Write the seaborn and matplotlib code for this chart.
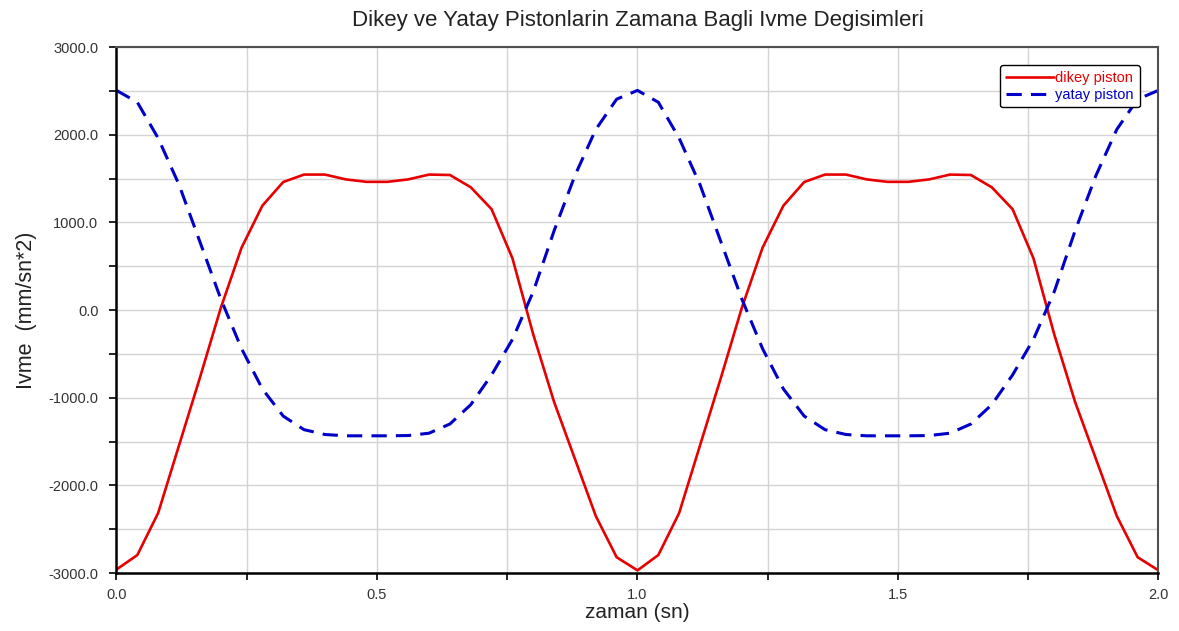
import numpy as np
import pandas as pd
import matplotlib
matplotlib.use("Agg")
import matplotlib.pyplot as plt
from matplotlib.ticker import MultipleLocator, FormatStrFormatter
import seaborn as sns

# time samples (sn)
zaman = [0.00, 0.04, 0.08, 0.12, 0.16, 0.20, 0.24, 0.28, 0.32, 0.36, 0.40, 0.44, 0.48,
         0.52, 0.56, 0.60, 0.64, 0.68, 0.72, 0.76, 0.80, 0.84, 0.88, 0.92, 0.96, 1.00,
         1.04, 1.08, 1.12, 1.16, 1.20, 1.24, 1.28, 1.32, 1.36, 1.40, 1.44, 1.48,
         1.52, 1.56, 1.60, 1.64, 1.68, 1.72, 1.76, 1.80, 1.84, 1.88, 1.92, 1.96, 2.00]

# vertical piston acceleration (mm/sn^2)
dikey = [-2960, -2795, -2315, -1545, -775, 20, 710, 1190, 1460, 1545, 1545, 1490, 1462,
         1462, 1490, 1545, 1540, 1400, 1150, 590, -280, -1050, -1700, -2350, -2820, -2970,
         -2795, -2315, -1545, -775, 20, 710, 1190, 1460, 1545, 1545, 1490, 1462,
         1462, 1490, 1545, 1540, 1400, 1150, 590, -280, -1050, -1700, -2350, -2820, -2970]

# horizontal piston acceleration (mm/sn^2)
yatay = [2505, 2370, 1960, 1430, 780, 130, -440, -900, -1210, -1365, -1420, -1435, -1435,
         -1435, -1432, -1405, -1300, -1080, -740, -335, 210, 905, 1535, 2060, 2405, 2505,
         2370, 1960, 1430, 780, 130, -440, -900, -1210, -1365, -1420, -1435, -1435,
         -1435, -1432, -1405, -1300, -1080, -740, -335, 210, 905, 1535, 2060, 2405, 2505]

df = pd.DataFrame({"zaman": zaman, "dikey": dikey, "yatay": yatay})

sns.set_style("white")
plt.rcParams["font.family"] = ["Liberation Sans", "DejaVu Sans"]

fig = plt.figure(figsize=(11.79, 6.31), dpi=100)
ax = fig.add_axes([0.0988, 0.0919, 0.8838, 0.8336])

sns.lineplot(data=df, x="zaman", y="dikey", ax=ax, color="#e80000", linewidth=1.9,
             label="dikey piston")
sns.lineplot(data=df, x="zaman", y="yatay", ax=ax, color="#0000c8", linewidth=2.2,
             label="yatay piston", dashes=False)
ax.lines[1].set_dashes([5, 3])

ax.set_xlim(0, 2.0)
ax.set_ylim(-3000, 3000)
ax.xaxis.set_major_locator(MultipleLocator(0.5))
ax.xaxis.set_minor_locator(MultipleLocator(0.25))
ax.yaxis.set_major_locator(MultipleLocator(1000))
ax.yaxis.set_minor_locator(MultipleLocator(500))
ax.xaxis.set_major_formatter(FormatStrFormatter("%.1f"))
ax.yaxis.set_major_formatter(FormatStrFormatter("%.1f"))
ax.grid(True, which="both", color="#d4d4d4", linewidth=1.0)
ax.set_axisbelow(True)

ax.tick_params(axis="both", which="both", direction="out", length=5, width=1.2,
               color="black", labelsize=10.5, labelcolor="#333333",
               bottom=True, left=True, top=False, right=False)
ax.tick_params(axis="x", which="major", pad=6)
ax.tick_params(axis="y", which="major", pad=8)

for side in ["left", "bottom"]:
    ax.spines[side].set_color("black")
    ax.spines[side].set_linewidth(1.8)
for side in ["top", "right"]:
    ax.spines[side].set_color("#505050")
    ax.spines[side].set_linewidth(1.5)

ax.set_xlabel("zaman (sn)", fontsize=15, color="#222222", labelpad=0.5)
ax.set_ylabel("Ivme  (mm/sn*2)", fontsize=15.5, color="#222222", labelpad=8)
ax.set_title("Dikey ve Yatay Pistonlarin Zamana Bagli Ivme Degisimleri",
             fontsize=16, color="#222222", pad=15)

leg = ax.legend(loc="upper right", bbox_to_anchor=(0.982, 0.966), borderaxespad=0,
                fontsize=10.5, handlelength=3.3, handletextpad=0.1, borderpad=0.4,
                labelspacing=0.2, frameon=True, fancybox=True, edgecolor="black")
leg.get_frame().set_linewidth(1.0)
leg.get_frame().set_alpha(1)
for text, line in zip(leg.get_texts(), leg.get_lines()):
    text.set_color(line.get_color())

fig.savefig("out.png", dpi=100)
